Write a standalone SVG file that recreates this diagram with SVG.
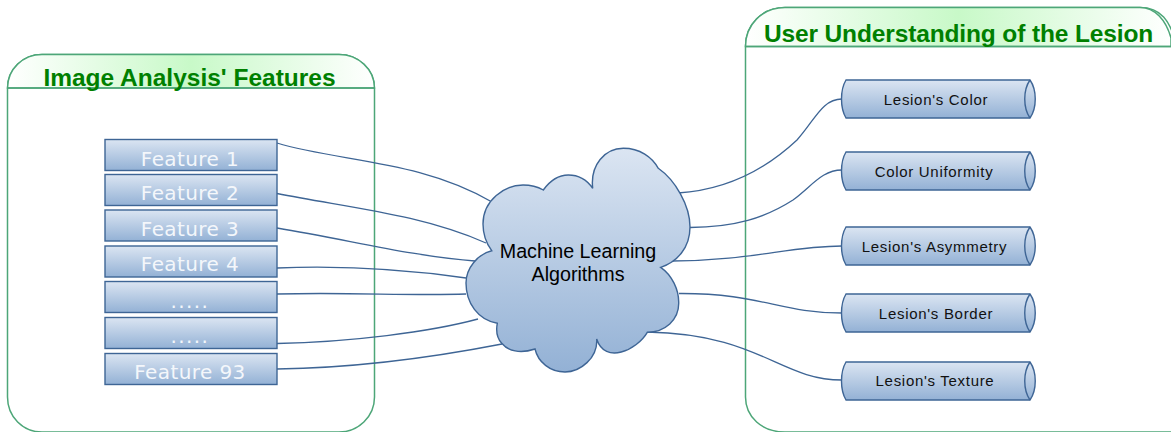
<svg xmlns="http://www.w3.org/2000/svg" width="1171" height="432" viewBox="0 0 1171 432">
<style>
.panel{fill:#fff;stroke:#4da678;stroke-width:1.5}
.div{stroke:#4da678;stroke-width:1.5;fill:none}
.title{font-family:"Liberation Sans",Arial,sans-serif;font-weight:700;font-size:24.5px;fill:#008000;text-anchor:middle}
.box{fill:url(#blue);stroke:#3e6595;stroke-width:1.4}
.feat{font-family:"DejaVu Sans",sans-serif;font-size:20px;letter-spacing:.4px;fill:#f4f7fb;text-anchor:middle}
.dots{letter-spacing:1.4px}
.lab{font-family:"Liberation Sans",Arial,sans-serif;font-size:15px;letter-spacing:.7px;fill:#111;text-anchor:middle}
.cloudt{font-family:"Liberation Sans",Arial,sans-serif;font-size:19.7px;fill:#000;text-anchor:middle}
.con{fill:none;stroke:#3e6595;stroke-width:1.3}
</style>
<defs>
<linearGradient id="blue" x1="0" y1="0" x2="0" y2="1"><stop offset="0" stop-color="#dbe5f2"/><stop offset="1" stop-color="#93b1d5"/></linearGradient>
<linearGradient id="headL" x1="0" y1="0" x2="1" y2="0"><stop offset="0" stop-color="#fff"/><stop offset=".5" stop-color="#c8f9c8"/><stop offset="1" stop-color="#fff"/></linearGradient>
</defs>
<g id="panel-left">
<path class="panel" d="M7.500,397V89C7.500,69 23,54.500 42,54.500H339C358,54.500 374.500,69 374.500,89V397C374.500,417 358,432 339,432H42C23,432 7.500,417 7.500,397Z"/>
<path d="M7.500,88C7.500,69 23,54.500 42,54.500H339C358,54.500 374.500,69 374.500,88Z" fill="url(#headL)" stroke="#4da678" stroke-width="1.500"/>
<path class="div" d="M7.500,88H374.500"/>
<text class="title" x="189.500" y="85.500">Image Analysis' Features</text>
</g>
<g id="panel-right">
<path class="panel" d="M745.500,397V46C745.500,25 762,7.500 785,7.500H1140C1160,7.500 1171,20 1176,46V432H785C762,432 745.500,417 745.500,397Z"/>
<path d="M745.500,46.500C745.500,25 762,7.500 785,7.500H1140C1155,7.500 1166,20 1171,38V46.500Z" fill="url(#headL)" stroke="#4da678" stroke-width="1.500"/>
<path class="div" d="M745.500,46.500H1171"/>
<text class="title" x="958.500" y="42" style="letter-spacing:-.13px">User Understanding of the Lesion</text>
</g>
<g id="connectors">
<path class="con" d="M277,143C340,162 420,160 492,202"/>
<path class="con" d="M277,193.500C350,208 420,214 486,243"/>
<path class="con" d="M277,228C350,240 410,256 475,261"/>
<path class="con" d="M277,268C350,265 410,270 466,278"/>
<path class="con" d="M277,294C350,292 410,296 466,294"/>
<path class="con" d="M277,343.500C350,342 430,332 478,319"/>
<path class="con" d="M277,369C350,368 430,358 502,344"/>
<path class="con" d="M678,193C725,190 765,170 797,140C815,120 822,99 842,99"/>
<path class="con" d="M690,227.500C735,227 765,218 793,200C812,186 822,170 842,170"/>
<path class="con" d="M672,261C750,261 790,246 842,246"/>
<path class="con" d="M679,293.500C760,293 780,313 842,313"/>
<path class="con" d="M647,332C760,334 780,380 842,380"/>
</g>
<g id="f1"><rect class="box" x="105" y="139.500" width="172" height="31"/><text class="feat" x="190" y="166">Feature 1</text></g>
<g id="f2"><rect class="box" x="105" y="174.500" width="172" height="31"/><text class="feat" x="190" y="200">Feature 2</text></g>
<g id="f3"><rect class="box" x="105" y="210" width="172" height="31"/><text class="feat" x="190" y="236">Feature 3</text></g>
<g id="f4"><rect class="box" x="105" y="246" width="172" height="31"/><text class="feat" x="190" y="271">Feature 4</text></g>
<g id="f5"><rect class="box" x="105" y="281.500" width="172" height="31"/><text class="feat dots" x="190" y="308">.....</text></g>
<g id="f6"><rect class="box" x="105" y="317.500" width="172" height="31"/><text class="feat dots" x="190" y="343">.....</text></g>
<g id="f93"><rect class="box" x="105" y="353.500" width="172" height="31"/><text class="feat" x="190" y="379">Feature 93</text></g>
<g id="cloud">
<path class="box" d="M543.300,190C552,178 560,175 568.300,175C578,175 587,180 592.700,188.300C590,165 605,148.300 623.300,148.300C640,148.300 652,157 658.300,168.300C675,180 690,205 690,227C690,248 677,262 660.700,267.300C672,275 679,290 678.700,303C679,320 665,332 647.300,332.300C637,350 605,365 596.700,339C598,358 580,372 565,372C550,372 538,362 535,349C520,354 508,351 501.700,343.300C497,338 496,330 497.300,323.300C478,320 466,303 466,283C466,268 478,254 491.700,250.700C486,243 483,233 483,224C483,200 505,185 523,185C530,185 538,187 543.300,190Z"/>
<text class="cloudt" x="578" y="258">Machine Learning</text>
<text class="cloudt" x="578" y="281">Algorithms</text>
</g>
<g id="r1"><path class="box" d="M846,80H1030C1037,90 1037,108 1030,118H846C840,108 840,90 846,80Z"/><path class="box" d="M1030,80C1023,90 1023,108 1030,118"/><text class="lab" x="936" y="105">Lesion's Color</text></g>
<g id="r2"><path class="box" d="M846,152H1030C1037,162 1037,180 1030,190H846C840,180 840,162 846,152Z"/><path class="box" d="M1030,152C1023,162 1023,180 1030,190"/><text class="lab" x="934" y="177">Color Uniformity</text></g>
<g id="r3"><path class="box" d="M846,227H1030C1037,237 1037,255 1030,265H846C840,255 840,237 846,227Z"/><path class="box" d="M1030,227C1023,237 1023,255 1030,265"/><text class="lab" x="934.500" y="252">Lesion's Asymmetry</text></g>
<g id="r4"><path class="box" d="M846,294H1030C1037,304 1037,322 1030,332H846C840,322 840,304 846,294Z"/><path class="box" d="M1030,294C1023,304 1023,322 1030,332"/><text class="lab" x="936" y="319">Lesion's Border</text></g>
<g id="r5"><path class="box" d="M846,362H1030C1037,372 1037,390 1030,400H846C840,390 840,372 846,362Z"/><path class="box" d="M1030,362C1023,372 1023,390 1030,400"/><text class="lab" x="935" y="386">Lesion's Texture</text></g>
</svg>
